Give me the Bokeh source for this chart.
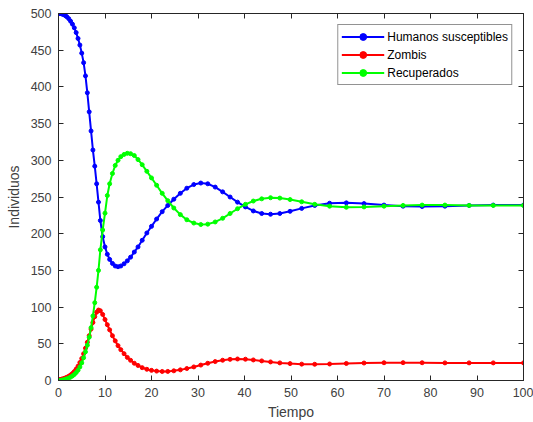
from bokeh.plotting import figure
from bokeh.models import LinearAxis, Range1d, FixedTicker, Legend, LegendItem, CustomJSTickFormatter
from bokeh.embed import file_html
from bokeh.resources import INLINE

tiempo = [0, 0.3, 0.6, 0.9, 1.2, 1.5, 1.8, 2.2, 2.6, 3.0, 3.4, 3.8, 4.2, 4.6, 5.0, 5.4, 5.8,
          6.2, 6.6, 7.0, 7.4, 7.8, 8.2, 8.6, 9.0, 9.5, 10.0, 10.5, 11.0, 11.6, 12.2, 12.8,
          13.4, 14.1, 14.8, 15.5, 16.3, 17.1, 18.0, 19.0, 20.0, 21.1, 22.3, 23.5, 24.8, 26.2,
          27.6, 29.1, 30.6, 32.1, 33.7, 35.3, 36.9, 38.5, 40.2, 41.9, 43.7, 45.6, 47.6, 49.8,
          52.3, 55.1, 58.3, 61.9, 65.7, 70.0, 74.1, 78.2, 83.1, 88.3, 93.5, 100.0]

humanos = [500, 499.9, 499.6, 499, 498.2, 497, 495.5, 493, 489.5, 485.5, 480.5, 474, 466, 457,
           446, 433, 415, 392, 366, 340, 314, 292, 268, 243, 218, 196, 182, 172, 165, 159.5,
           156, 155, 156, 159, 163, 168, 175, 182, 191, 201, 210, 220, 230, 238.5, 247, 255,
           262, 267, 269, 268, 263.5, 257, 250, 243, 236.5, 231, 227.5, 226.5, 227.5, 230.5,
           234.5, 238.5, 241.5, 242, 241, 239, 237.5, 237, 237.5, 238.5, 239, 239]

zombis = [1, 1.3, 1.7, 2.2, 2.8, 3.5, 4.4, 5.8, 7.5, 9.6, 12.2, 15.5, 19.5, 24.5, 30, 36.5, 44,
          52, 61, 70, 79, 87, 93, 96, 95, 90, 83, 76, 69, 61, 54, 47.5, 42, 36.5, 31.5, 27.5,
          23.5, 20.5, 17.5, 15.3, 13.8, 12.8, 12.3, 12.4, 13.2, 14.5, 16.3, 18.5, 21, 23.5,
          25.8, 27.6, 28.8, 29.3, 29, 28, 26.7, 25.3, 24, 23, 22.3, 22.1, 22.5, 23.2, 23.8,
          24.2, 24.3, 24.2, 24, 24, 24, 24]

recuperados = [0, 0.1, 0.3, 0.6, 1, 1.6, 2.3, 3.3, 4.6, 6.2, 8.2, 10.8, 14, 18.5, 24, 31, 39,
               48, 59, 72, 88, 106, 127, 150, 178, 205, 228, 252, 268, 282, 293, 300, 305, 308,
               309.5, 309, 306.5, 301, 294, 285, 276, 266, 255, 245, 235, 226, 219, 214.5,
               212.5, 213, 216, 221, 227.5, 234, 240, 244.5, 247.5, 249, 248.5, 246.5, 243.5,
               240, 237.5, 236, 236.5, 237.5, 238.5, 239, 239, 238.5, 238.5, 238.5]

series_names = ["Humanos susceptibles", "Zombis", "Recuperados"]
series_colors = ["#0000ff", "#ff0000", "#00ff00"]
x_ticks = [0, 10, 20, 30, 40, 50, 60, 70, 80, 90, 100]
y_ticks = [0, 50, 100, 150, 200, 250, 300, 350, 400, 450, 500]

FONT = "Liberation Sans"
AX = "#262626"
TXT = "#404040"

p = figure(frame_width=465, frame_height=367, output_backend="svg", toolbar_location=None,
           x_range=Range1d(0, 100), y_range=Range1d(0, 500),
           min_border_left=58, min_border_right=10, min_border_top=13, min_border_bottom=42)
p.xgrid.visible = False
p.ygrid.visible = False
p.outline_line_color = AX
p.outline_line_width = 1
p.background_fill_color = "white"
p.border_fill_color = "white"

for ax in (p.xaxis[0], p.yaxis[0]):
    ax.axis_line_color = AX
    ax.major_tick_line_color = AX
    ax.major_tick_in = 5
    ax.major_tick_out = 0
    ax.minor_tick_line_color = None
    ax.major_label_text_font = FONT
    ax.major_label_text_font_size = "12.5px"
    ax.major_label_text_color = TXT
    ax.axis_label_text_font = FONT
    ax.axis_label_text_font_size = "14px"
    ax.axis_label_text_font_style = "normal"
    ax.axis_label_text_color = TXT

p.xaxis.ticker = FixedTicker(ticks=x_ticks)
p.yaxis.ticker = FixedTicker(ticks=y_ticks)
p.xaxis.axis_label = "Tiempo"
p.yaxis.axis_label = "Individuos"
p.xaxis.major_label_standoff = 7
p.xaxis.axis_label_standoff = 4
p.yaxis.major_label_standoff = 7
p.yaxis.axis_label_standoff = 6

blank = CustomJSTickFormatter(code="return ''")
top = LinearAxis(ticker=FixedTicker(ticks=x_ticks), formatter=blank,
                 major_tick_in=5, major_tick_out=0, minor_tick_line_color=None,
                 axis_line_color=AX, major_tick_line_color=AX, major_label_standoff=0)
right = LinearAxis(ticker=FixedTicker(ticks=y_ticks), formatter=blank,
                   major_tick_in=5, major_tick_out=0, minor_tick_line_color=None,
                   axis_line_color=AX, major_tick_line_color=AX, major_label_standoff=0)
p.add_layout(top, "above")
p.add_layout(right, "right")

items = []
for name, ys, col in zip(series_names, [humanos, zombis, recuperados], series_colors):
    r1 = p.line(tiempo, ys, line_color=col, line_width=2)
    r2 = p.scatter(tiempo, ys, size=4, fill_color=col, line_color=col)
    items.append(LegendItem(label=name, renderers=[r1, r2]))

leg = Legend(items=items, location="top_right")
leg.label_text_font = FONT
leg.label_text_font_size = "12px"
leg.label_text_color = "#000000"
leg.glyph_width = 43
leg.glyph_height = 17
leg.label_height = 17
leg.label_standoff = 3
leg.spacing = 1
leg.padding = 3
leg.margin = 11
leg.border_line_color = AX
leg.border_line_width = 1
leg.background_fill_color = "white"
p.add_layout(leg, "center")

open("out.html", "w").write(file_html(p, INLINE))
